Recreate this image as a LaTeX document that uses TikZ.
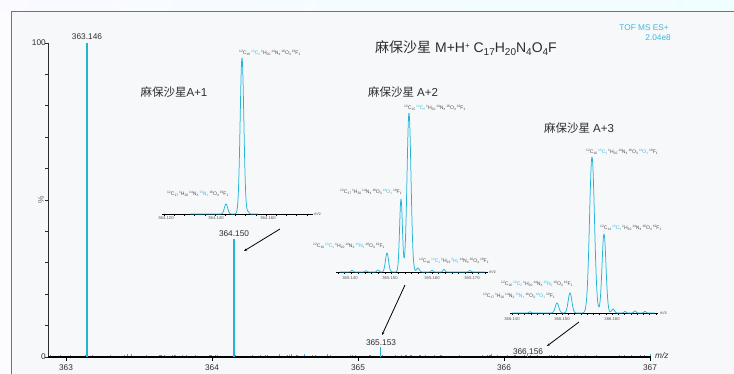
\documentclass[tikz,border=0pt]{standalone}
\usepackage{fontspec}
\setmainfont{Liberation Sans}
\newfontfamily\cjk{Noto Sans CJK SC}
\usetikzlibrary{arrows.meta}
\definecolor{cy}{HTML}{22B5D8}
\definecolor{lbl}{HTML}{3DB9E0}
\definecolor{txt}{HTML}{2E2E2E}
\definecolor{bg}{HTML}{F7F8FA}
\newcommand{\iso}[3]{\raisebox{1.7pt}{\fontsize{3.3}{4}\selectfont #1}#2\raisebox{-0.9pt}{\fontsize{3.3}{4}\selectfont #3}\hspace{0.9pt}}
\newcommand{\ciso}[3]{{\color{lbl}\iso{#1}{#2}{#3}}}
\tikzset{
  peak/.style={draw=cy, line width=1.3pt},
  trace/.style={draw=cy, line width=0.75pt, line join=round},
  isolbl/.style={anchor=west, inner sep=0pt, text=txt!85, font=\fontsize{5.1}{6}\selectfont},
  ticklbl/.style={inner sep=0pt, text=txt, font=\fontsize{8.3}{9}\selectfont},
  smallticklbl/.style={inner sep=0pt, text=txt!80, font=\fontsize{4.2}{5}\selectfont},
  cnlbl/.style={inner sep=0pt, text=txt, font=\fontsize{11.5}{13}\selectfont},
  pointer/.style={draw=black, line width=0.8pt, -{Stealth[length=3pt,width=2.2pt]}},
  insetaxis/.style={draw=black, line width=0.9pt},
  declare function={g(\x,\c,\w)=exp(-((\x-\c)/\w)*((\x-\c)/\w));}
}
\begin{document}
\begin{tikzpicture}[x=1pt,y=-1pt]
\useasboundingbox (0,0) rectangle (734,374);
% background
\fill[left color=black!3!blue!2, right color=blue!8!cyan!6] (0,0) rectangle (734,11);
\fill[black!2!blue!1] (0,11) rectangle (11,374);
\fill[bg] (11,11) rectangle (734,374);
\draw[black!55, line width=0.9pt] (11,374) -- (11,11) -- (734,11);

% main axes
\draw[txt, line width=0.9pt] (48,43) -- (48,357);
\foreach \k in {0,...,10} \draw[txt, line width=0.8pt] (45,{357-31.4*\k}) -- (48,{357-31.4*\k});
\node[ticklbl, anchor=east] (y100) at (46,43) {100};
\node[ticklbl, anchor=east] (y0) at (46,357) {0};
\node[ticklbl, rotate=90, text=txt!70] (pct) at (41,200) {\%};
% noise along base
\pgfmathsetseed{11}
\foreach \i in {0,...,480} {
  \pgfmathsetmacro\xx{50+1.25*\i}
  \pgfmathsetmacro\hh{rnd*rnd*2.6}
  \draw[cy, line width=0.45pt] (\xx,356.6) -- (\xx,{356.6-\hh});
}
\draw[black, line width=1.6pt] (48,357) -- (651,357);
\foreach \xv/\lab in {66/363,212/364,358/365,504/366,650/367} {
  \draw[black, line width=0.8pt] (\xv,357) -- (\xv,361);
  \node[ticklbl] (xt\lab) at (\xv,367.5) {\lab};
}
\node[anchor=west, inner sep=0pt, text=txt, font=\fontsize{8.3}{9}\selectfont\itshape] (mz) at (655,356) {m/z};

% main peaks
\draw[peak] (87,357) -- (87,43);
\draw[peak] (234,357) -- (234,239);
\draw[peak, line width=1.8pt] (380.5,357) -- (380.5,347);
\draw[peak, line width=0.9pt] (527,357) -- (527,354);
\node[ticklbl] (p1) at (87,37) {363.146};
\node[ticklbl] (p2) at (234,234) {364.150};
\node[ticklbl] (p3) at (381,343) {365.153};
\node[ticklbl] (p4) at (528,352) {366.156};

% titles
\node[inner sep=0pt, text=txt, font=\fontsize{14}{16}\selectfont] (title) at (466,48)
  {{\cjk 麻保沙星} M+H\raisebox{4pt}{\fontsize{8}{8}\selectfont +} C\raisebox{-2.5pt}{\fontsize{10}{10}\selectfont 17}H\raisebox{-2.5pt}{\fontsize{10}{10}\selectfont 20}N\raisebox{-2.5pt}{\fontsize{10}{10}\selectfont 4}O\raisebox{-2.5pt}{\fontsize{10}{10}\selectfont 4}F};
\node[anchor=east, inner sep=0pt, text=lbl, font=\fontsize{8.3}{9}\selectfont] (tof) at (669,28) {TOF MS ES+};
\node[anchor=east, inner sep=0pt, text=lbl, font=\fontsize{8.3}{9}\selectfont] (int) at (671,38) {2.04e8};
\node[cnlbl] (a1) at (174,92) {{\cjk 麻保沙星}A+1};
\node[cnlbl] (a2) at (403,92) {{\cjk 麻保沙星} A+2};
\node[cnlbl] (a3) at (579,128) {{\cjk 麻保沙星} A+3};

% ---------- inset 1 ----------
\draw[insetaxis] (162,214) -- (313,214);
\foreach \t in {0,...,14} \draw[black, line width=0.5pt] ({164+10.2*\t},214) -- ({164+10.2*\t},216);
\node[smallticklbl] (i1a) at (166,218.5) {364.120};
\node[smallticklbl] (i1b) at (216,218.5) {364.140};
\node[smallticklbl] (i1c) at (268,218.5) {364.160};
\node[smallticklbl, anchor=west] (i1mz) at (314,214) {m/z};
\draw[trace] plot[domain=190:258, samples=300]
  (\x, {214 - 10*g(\x,226,2.3) - 156*g(\x,242,2.6) - 2*g(\x,248,1.5)});
\node[isolbl] (l1a) at (239,53) {\iso{12}{C}{16}\ciso{13}{C}{1}\iso{1}{H}{20}\iso{14}{N}{4}\iso{16}{O}{4}\iso{19}{F}{1}};
\node[isolbl] (l1b) at (167,194) {\iso{12}{C}{17}\iso{1}{H}{20}\iso{14}{N}{3}\ciso{15}{N}{1}\iso{16}{O}{4}\iso{19}{F}{1}};

% ---------- inset 2 ----------
\draw[insetaxis] (336,272) -- (488,272);
\foreach \t in {0,...,22} \draw[black, line width=0.5pt] ({338+6.7*\t},272) -- ({338+6.7*\t},274);
\node[smallticklbl] (i2a) at (350,278.5) {365.140};
\node[smallticklbl] (i2b) at (390,278.5) {365.150};
\node[smallticklbl] (i2c) at (432,278.5) {365.160};
\node[smallticklbl] (i2d) at (472,278.5) {365.170};
\node[smallticklbl, anchor=west] (i2mz) at (489,272) {m/z};
\draw[trace] plot[domain=340:485, samples=500]
  (\x, {272 - 1.5*g(\x,352,1.5) - 1.2*g(\x,366,1.5) - 2*g(\x,378,1.5) - 19*g(\x,387,2.2) - 73*g(\x,401,2.0) - 159*g(\x,409,2.8) - 4*g(\x,418,2) - 1.5*g(\x,432,1.5) - 2.5*g(\x,444,1.5) - 1.5*g(\x,470,1.5)});
\node[isolbl] (l2a) at (404,108) {\iso{12}{C}{15}\ciso{13}{C}{2}\iso{1}{H}{20}\iso{14}{N}{4}\iso{16}{O}{4}\iso{19}{F}{1}};
\node[isolbl] (l2b) at (340,192) {\iso{12}{C}{17}\iso{1}{H}{20}\iso{14}{N}{4}\iso{16}{O}{3}\ciso{18}{O}{1}\iso{19}{F}{1}};
\node[isolbl] (l2c) at (313,246) {\iso{12}{C}{16}\ciso{13}{C}{1}\iso{1}{H}{20}\iso{14}{N}{3}\ciso{15}{N}{1}\iso{16}{O}{4}\iso{19}{F}{1}};
\node[isolbl] (l2d) at (419,261) {\iso{12}{C}{16}\ciso{13}{C}{1}\iso{1}{H}{19}\ciso{2}{H}{1}\iso{14}{N}{4}\iso{16}{O}{4}\iso{19}{F}{1}};

% ---------- inset 3 ----------
\draw[insetaxis] (510,313) -- (658,313);
\foreach \t in {0,...,23} \draw[black, line width=0.5pt] ({512+6.25*\t},313) -- ({512+6.25*\t},315);
\node[smallticklbl] (i3a) at (512,319) {366.140};
\node[smallticklbl] (i3b) at (562,319) {366.150};
\node[smallticklbl] (i3c) at (612,319) {366.160};
\node[smallticklbl, anchor=west] (i3mz) at (660,313) {m/z};
\draw[trace] plot[domain=512:655, samples=500]
  (\x, {313 - 10*g(\x,557,2.5) - 20*g(\x,570,2.6) - 156*g(\x,592,3.5) - 79*g(\x,604,2.8) - 4*g(\x,613,2) - 1.5*g(\x,625,1.5) - 2*g(\x,635,1.5) - 1.5*g(\x,645,1.5) - 1.2*g(\x,530,1.5)});
\node[isolbl] (l3a) at (586,152) {\iso{12}{C}{16}\ciso{13}{C}{1}\iso{1}{H}{20}\iso{14}{N}{4}\iso{16}{O}{3}\ciso{18}{O}{1}\iso{19}{F}{1}};
\node[isolbl] (l3b) at (600,228) {\iso{12}{C}{14}\ciso{13}{C}{3}\iso{1}{H}{20}\iso{14}{N}{4}\iso{16}{O}{4}\iso{19}{F}{1}};
\node[isolbl] (l3c) at (501,284) {\iso{12}{C}{16}\ciso{13}{C}{2}\iso{1}{H}{20}\iso{14}{N}{3}\ciso{15}{N}{1}\iso{16}{O}{4}\iso{19}{F}{1}};
\node[isolbl] (l3d) at (483,296) {\iso{12}{C}{17}\iso{1}{H}{20}\iso{14}{N}{3}\ciso{15}{N}{1}\iso{16}{O}{3}\ciso{18}{O}{1}\iso{19}{F}{1}};

% pointers
\coordinate (s1) at (280,229); \coordinate (e1) at (244,251);
\coordinate (s2) at (405,285); \coordinate (e2) at (382,335);
\coordinate (s3) at (579,322); \coordinate (e3) at (547,346);
\draw[pointer] (s1) -- (e1);
\draw[pointer] (s2) -- (e2);
\draw[pointer] (s3) -- (e3);
\end{tikzpicture}
\end{document}
